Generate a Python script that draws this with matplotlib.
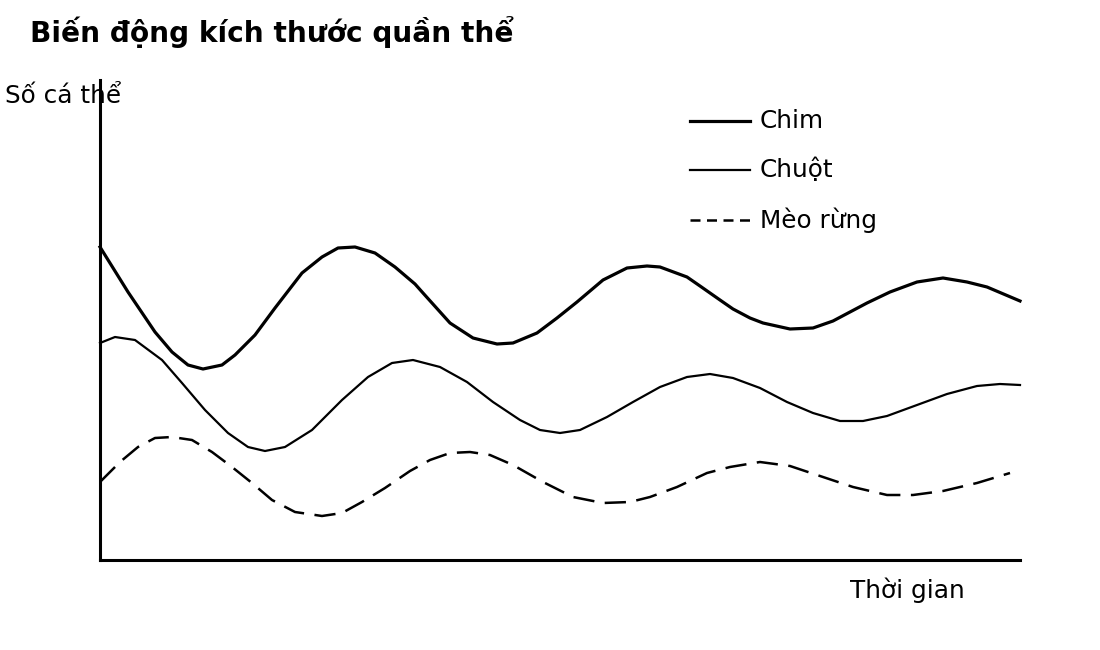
import matplotlib
matplotlib.use("Agg")
import matplotlib.pyplot as plt
from matplotlib.lines import Line2D

plt.rcParams['font.family'] = ['DejaVu Sans']

title = "Biến động kích thước quần thể"
y_label = "Số cá thể"
x_label = "Thời gian"
series_names = ["Chim", "Chuột", "Mèo rừng"]

chim_t = [0, 2.8, 5.5, 7.2, 8.8, 10.3, 12.2, 13.5, 15.5, 17.5, 20.2, 22.2, 23.8, 25.5,
          27.5, 29.5, 31.5, 32.3, 35.0, 37.3, 39.7, 41.3, 43.7, 45.7, 47.7, 50.3, 52.7,
          54.7, 56.0, 58.7, 60.0, 62.0, 63.3, 65.0, 66.3, 69.0, 71.3, 73.3, 76.7, 79.0,
          81.7, 84.3, 86.7, 88.7, 92.0]
chim_n = [31.3, 26.8, 22.8, 20.8, 19.5, 19.1, 19.5, 20.5, 22.5, 25.2, 28.7, 30.3, 31.2,
          31.3, 30.7, 29.3, 27.6, 26.7, 23.7, 22.2, 21.6, 21.7, 22.7, 24.2, 25.8, 28.0,
          29.2, 29.4, 29.3, 28.3, 27.4, 26.0, 25.1, 24.2, 23.7, 23.1, 23.2, 23.9, 25.7,
          26.8, 27.8, 28.2, 27.8, 27.3, 25.9]

chuot_t = [0, 1.5, 3.5, 6.2, 8.2, 10.5, 12.8, 14.8, 16.5, 18.5, 21.2, 24.2, 26.8, 29.2,
           31.3, 34.0, 36.7, 39.3, 42.0, 44.0, 46.0, 48.0, 50.7, 53.3, 56.0, 58.7, 61.0,
           63.3, 66.0, 68.7, 71.3, 74.0, 76.3, 78.7, 81.7, 84.7, 87.7, 90.0, 92.0]
chuot_n = [21.7, 22.3, 22.0, 20.0, 17.7, 15.0, 12.7, 11.3, 10.9, 11.3, 13.0, 16.0, 18.3,
           19.7, 20.0, 19.3, 17.8, 15.8, 14.0, 13.0, 12.7, 13.0, 14.3, 15.8, 17.3, 18.3,
           18.6, 18.2, 17.2, 15.8, 14.7, 13.9, 13.9, 14.4, 15.5, 16.6, 17.4, 17.6, 17.5]

meo_t = [0, 2.0, 3.8, 5.5, 7.2, 9.2, 11.2, 13.2, 15.2, 17.2, 19.5, 22.2, 24.2, 26.2,
         28.5, 31.0, 33.0, 35.0, 37.0, 39.0, 41.3, 44.3, 47.3, 50.3, 53.0, 55.0, 57.7,
         60.7, 63.0, 66.0, 69.0, 72.3, 75.3, 78.7, 81.3, 84.3, 87.7, 91.0]
meo_n = [7.8, 9.8, 11.3, 12.2, 12.3, 12.0, 10.8, 9.3, 7.7, 6.0, 4.8, 4.4, 4.7, 5.8,
         7.2, 8.9, 10.0, 10.7, 10.8, 10.5, 9.5, 7.8, 6.3, 5.7, 5.8, 6.3, 7.3, 8.7, 9.3,
         9.8, 9.4, 8.3, 7.3, 6.5, 6.5, 6.9, 7.7, 8.7]

W, H = 1100, 650
fig = plt.figure(figsize=(11, 6.5), dpi=100)
ax = fig.add_axes([100 / W, (H - 560) / H, 920 / W, 480 / H])
ax.set_xlim(0, 92)
ax.set_ylim(0, 48)
for s in ["top", "right"]:
    ax.spines[s].set_visible(False)
for s in ["left", "bottom"]:
    ax.spines[s].set_linewidth(2.2)
    ax.spines[s].set_color("black")
ax.set_xticks([])
ax.set_yticks([])
ax.patch.set_visible(False)

ax.plot(chim_t, chim_n, color="black", lw=2.3, solid_joinstyle="round", clip_on=False)
ax.plot(chuot_t, chuot_n, color="black", lw=1.6, solid_joinstyle="round", clip_on=False)
ax.plot(meo_t, meo_n, color="black", lw=1.8, dashes=(8.5, 4.2), clip_on=False)

# legend
def fx(px):
    return px / W

def fy(py):
    return 1 - py / H

leg_styles = [dict(lw=2.3), dict(lw=1.6), dict(lw=1.8, dashes=(4, 2.6))]
leg_y = [121, 170, 220]
for name, st, yy in zip(series_names, leg_styles, leg_y):
    fig.add_artist(Line2D([fx(690), fx(750)], [fy(yy), fy(yy)], color="black",
                          transform=fig.transFigure, **st))
    fig.text(fx(760), fy(yy), name, fontsize=17.8, va="center", ha="left")

fig.text(fx(30), fy(42), title, fontsize=20.2, fontweight="bold", va="baseline", ha="left")
fig.text(fx(5), fy(103), y_label, fontsize=17.8, va="baseline", ha="left")
fig.text(fx(850), fy(598), x_label, fontsize=17.8, va="baseline", ha="left")

fig.savefig("out.png", dpi=100)
